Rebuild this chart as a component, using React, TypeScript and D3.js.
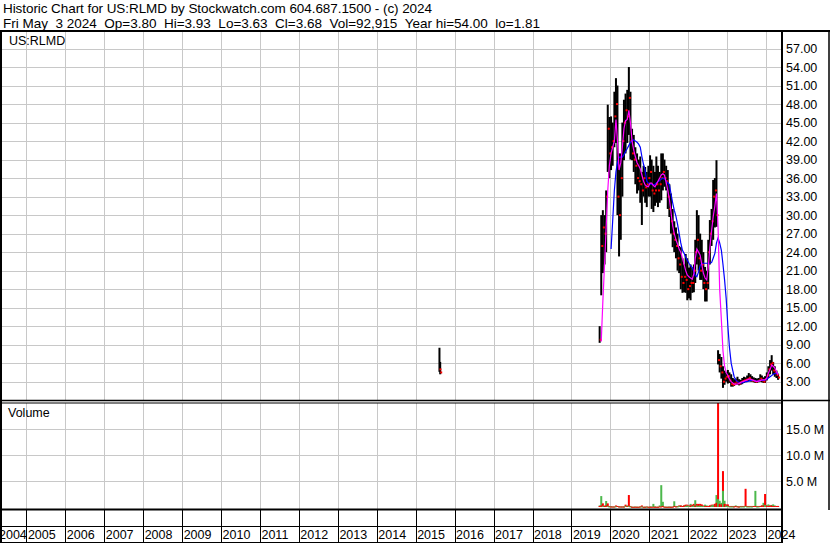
import React from "react";
import * as d3 from "d3";

// ---- data ----
const MONTHS = [
  "2019-09","2019-10","2019-11","2019-12",
  "2020-01","2020-02","2020-03","2020-04","2020-05","2020-06","2020-07","2020-08","2020-09","2020-10","2020-11","2020-12",
  "2021-01","2021-02","2021-03","2021-04","2021-05","2021-06","2021-07","2021-08","2021-09","2021-10","2021-11","2021-12",
  "2022-01","2022-02","2022-03","2022-04","2022-05","2022-06","2022-07","2022-08","2022-09","2022-10","2022-11","2022-12",
  "2023-01","2023-02","2023-03","2023-04","2023-05","2023-06","2023-07","2023-08","2023-09","2023-10","2023-11","2023-12",
  "2024-01","2024-02","2024-03","2024-04",
];

const HIGH = [
  12.0, 30, 30.8, 30, 34, 47.9, 45.9, 46, 45, 50, 52.2, 51, 40, 40, 45, 48.7, 49.7, 50.3, 54, 50,
  44, 43, 41, 40, 39, 39.5, 37, 38, 37.8, 37, 38, 39.7, 39, 38, 37, 39.5, 38, 37, 40, 40,
  39, 38, 37.3, 35, 33.5, 31, 29, 28, 27, 25, 24.8, 23, 22, 23.7, 23, 21.5, 22, 21.5, 22, 26,
  30.8, 30, 27, 26, 24, 21.6, 21, 26, 29.2, 31, 35.7, 36, 38.9, 8.1, 7.5, 7, 5.5, 4.8, 4.5, 4.9,
  4.5, 4.2, 3.6, 3.4, 3.5, 3.8, 3.4, 3.3, 3.6, 3.8, 3.7, 4.0, 4.4, 4.2, 3.9, 3.7, 3.6, 3.5, 3.6, 4.2,
  4.0, 3.7, 3.9, 4.5, 5.5, 6.5, 7.3, 6.2, 5.5, 4.8, 4.3,
];
const LOW = [
  9.3, 17, 20.6, 22, 24, 37, 36, 37.3, 38, 41, 41.7, 30, 23.3, 26, 33, 38.9, 40, 41.7, 43, 39,
  38.9, 37, 35, 33.5, 34, 32, 28.4, 33, 32, 31.3, 33, 33, 31, 30.5, 31.5, 32, 31.3, 32, 32.4, 34,
  34.6, 34, 31, 29.7, 27, 24.8, 24, 23, 21, 20.6, 18, 17.4, 17.5, 17.4, 16.2, 16.5, 16.2, 17.4, 17.5, 19,
  22, 21, 19.5, 19.5, 18, 16, 16, 18, 22, 25, 26, 28, 28.1, 5.8, 4.5, 3.5, 2.0, 2.5, 3, 2.7,
  2.8, 2.2, 2.2, 2.3, 2.5, 2.5, 2.4, 2.5, 2.6, 2.8, 2.9, 3.0, 3.1, 3.0, 3.0, 2.9, 2.8, 2.8, 2.9, 3.0,
  2.9, 2.8, 2.8, 3.2, 3.6, 4.2, 4.8, 4.2, 3.8, 3.6, 3.3,
];
const CLOSE = [
  9.8, 25, 28, 27, 33, 44, 40, 41, 42, 46, 48, 33, 30, 36, 42, 45, 47, 46, 49, 42,
  40, 39, 38, 36, 35.5, 35, 34, 36, 34.5, 35, 36, 37, 34, 33.5, 34, 35, 34, 35, 36, 37,
  36, 35.5, 33, 31, 29, 27, 26, 25, 23, 22, 20, 19, 20, 19.5, 18, 18.5, 19, 19, 21, 24,
  26, 23, 21, 22, 19, 18, 19, 24, 27, 29, 33, 34, 30, 6.5, 5.5, 4.5, 3, 3.5, 3.8, 3.9,
  3.2, 2.6, 2.5, 2.7, 3.0, 2.8, 2.7, 2.9, 3.1, 3.2, 3.3, 3.4, 3.6, 3.3, 3.2, 3.1, 3.0, 3.1, 3.2, 3.5,
  3.2, 3.0, 3.4, 4.0, 5.0, 5.8, 6.0, 4.8, 4.4, 4.1, 3.68,
];
const MA_FAST = [
  null, 9.5, 16, 22, 28, 34, 38, 40, 41, 42, 45.5, 42, 37.3, 38.5, 41, 44, 45.3, 45.5, 47, 45,
  42, 40.5, 39.5, 38.5, 38, 37.5, 36.5, 35.5, 34.9, 34.7, 34.6, 35.2, 35.2, 34.8, 34.6, 35, 35.5, 36, 36.5, 36.7,
  36.5, 35.3, 34, 32.6, 30.5, 28.3, 27, 26, 25.3, 24.5, 24, 23, 22, 21, 20.3, 20, 19.8, 19.6, 20.5, 23,
  24.5, 24, 23.5, 22, 20.6, 19.8, 19.5, 21.5, 24.8, 27.5, 29.7, 31.5, 33.5, 28, 18, 13, 8, 5.5, 4.5, 4.0,
  3.4, 3.0, 2.8, 2.6, 2.6, 2.6, 2.7, 2.9, 3.0, 3.1, 3.2, 3.3, 3.4, 3.4, 3.3, 3.2, 3.1, 3.0, 3.1, 3.2,
  3.3, 3.3, 3.3, 3.6, 4.4, 5.0, 5.7, 5.5, 5.2, 4.6, 4.1,
];
const MA_SLOW = [
  null, null, null, null, null, null, null, 24.5, 29, 34, 37, 38.5, 39.4, 39.4, 39.4, 39.8, 40.3, 40.8, 41.3, 41.8,
  42.1, 42.2, 42.0, 41.8, 41.5, 41.0, 39.5, 38.2, 37.2, 35.5, 35.2, 35.0, 35.0, 34.9, 35.0, 35.2, 35.4, 35.6, 35.8, 36.0,
  35.9, 35.5, 35.2, 35.0, 33.5, 32.0, 30.8, 29.8, 28.5, 27.0, 25.5, 24.3, 23.8, 23.2, 22.7, 22.2, 21.8, 21.5, 20.8, 20.2,
  20.0, 20.8, 21.8, 22.2, 22.2, 22.2, 22.2, 22.2, 22.2, 22.3, 23.0, 23.8, 25.5, 26.3, 25.5, 24.3, 22.0, 19.5, 16.5, 12.0,
  8.5, 6.0, 4.8, 3.8, 3.3, 3.0, 2.9, 2.8, 2.8, 2.9, 3.0, 3.0, 3.1, 3.2, 3.2, 3.2, 3.1, 3.1, 3.1, 3.2,
  3.2, 3.2, 3.3, 3.4, 3.6, 3.8, 4.0, 4.2, 4.3, 4.4, 4.4,
];
// volume in millions, split into up-day (green) and down-day (red) volume
const VOL_GREEN = [
  0.3, 2.1, 0.2, 0.3, 1.15, 0.2, 0.1, 0.15, 0.1, 0.1, 0.15, 0.2, 0.15, 0.1, 0.1, 0.1, 0.2, 0.3, 0.2, 0.1,
  0.05, 0.05, 0.1, 0.05, 0.05, 0.1, 0.1, 0.05, 0.05, 0.05, 0.05, 0.1, 0.1, 0.6, 0.1, 0.05, 0.05, 0.3, 4.2, 1.0,
  0.1, 0.05, 0.05, 0.1, 0.05, 0.1, 1.1, 0.2, 0.1, 0.2, 0.3, 0.2, 0.3, 0.2, 0.3, 0.2, 0.6, 0.2, 0.3, 1.3,
  0.3, 0.2, 0.3, 0.2, 0.2, 0.45, 0.3, 0.2, 0.3, 0.3, 0.4, 0.6, 2.3, 1.5, 1.2, 0.8, 3.1, 1.2, 0.3, 0.2,
  0.1, 0.1, 0.1, 0.2, 0.3, 0.2, 0.1, 0.1, 0.1, 0.1, 0.2, 0.1, 0.1, 0.1, 0.1, 0.2, 3.1, 0.1, 0.1, 0.2,
  0.3, 0.8, 0.4, 0.3, 0.5, 0.3, 0.4, 0.5, 0.3, 0.2, 0.2,
];
const VOL_RED = [
  0.2, 0.3, 0.7, 0.2, 0.3, 0.7, 0.2, 0.1, 0.1, 0.1, 0.3, 0.2, 0.1, 0.1, 0.1, 0.1, 0.45, 0.2, 2.3, 0.2,
  0.05, 0.05, 0.05, 0.05, 0.05, 0.1, 0.3, 0.05, 0.05, 0.1, 0.05, 0.05, 0.05, 0.05, 0.05, 0.05, 0.05, 0.1, 0.1, 0.2,
  0.05, 0.05, 0.05, 0.05, 0.05, 0.05, 0.2, 0.1, 0.2, 0.3, 0.3, 0.2, 0.3, 0.45, 0.45, 0.3, 0.3, 0.45, 0.6, 0.3,
  0.6, 0.6, 0.6, 0.5, 0.3, 0.2, 0.2, 0.2, 0.3, 0.45, 0.45, 0.6, 0.8, 22, 0.6, 0.5, 6.9, 0.6, 0.5, 0.5,
  0.2, 0.2, 0.2, 0.1, 0.2, 0.1, 0.1, 0.2, 0.2, 0.2, 3.5, 0.2, 0.2, 0.2, 0.2, 0.2, 0.2, 0.2, 0.2, 0.2,
  0.3, 0.3, 2.5, 0.3, 0.2, 0.3, 0.3, 0.2, 0.2, 0.2, 0.2,
];
// isolated 2015 trades
const EARLY_DATES = ["2015-08-12", "2015-08-19"];
const EARLY_HIGH = [8.5, 6.2];
const EARLY_LOW = [4.6, 4.2];
const EARLY_CLOSE = [5.0, 4.5];

const PRICE_TICKS = [3, 6, 9, 12, 15, 18, 21, 24, 27, 30, 33, 36, 39, 42, 45, 48, 51, 54, 57];
const VOL_TICKS = [5, 10, 15];
const YEARS = d3.range(2004, 2025);

const HEADER1 = "Historic Chart for US:RLMD by Stockwatch.com 604.687.1500 - (c) 2024";
const HEADER2 = "Fri May  3 2024  Op=3.80  Hi=3.93  Lo=3.63  Cl=3.68  Vol=92,915  Year hi=54.00  lo=1.81";

const FONT = "'Liberation Sans', Arial, sans-serif";
const GRID = "#c8c8c8";

export default function App() {
  const parse = d3.timeParse("%Y-%m-%d");
  const periods = MONTHS.flatMap((m) => [`${m}-08`, `${m}-23`]).slice(1).map((s) => parse(s) as Date);

  const PL = 2, PR = 781;
  const P_TOP = 32, P_BOT = 400;
  const V_TOP = 403, V_BOT = 509;

  const x = d3.scaleTime().domain([new Date(2004, 3, 28), new Date(2024, 4, 11)]).range([0, 780]);
  const y = d3.scaleLinear().domain([0, 59.68]).range([400.2, 32]);
  const yv = d3.scaleLinear().domain([0, 20]).range([507, 403]);

  const maLine = d3.line<number | null>()
    .defined((d) => d != null)
    .x((_, i) => x(periods[i]))
    .y((d) => y(d as number));

  const yearDates = YEARS.map((yr) => new Date(yr, 0, 1));
  const snap = (v: number) => Math.round(v) + 0.5;

  const early = EARLY_DATES.map((s) => parse(s) as Date);

  return (
    <svg width={830} height={543} style={{ position: "absolute", left: 0, top: 0, background: "#fff" }}
      fontFamily={FONT}>
      <defs>
        <clipPath id="pclip"><rect x={PL} y={P_TOP} width={PR - PL} height={P_BOT - P_TOP} /></clipPath>
        <clipPath id="vclip"><rect x={PL} y={V_TOP} width={PR - PL} height={V_BOT - V_TOP} /></clipPath>
      </defs>
      <rect x={0} y={0} width={830} height={543} fill="#fff" />

      {/* header */}
      <text x={3} y={13} fontSize={13.5} fill="#000" textLength={429} lengthAdjust="spacing"
        style={{ whiteSpace: "pre" }}>{HEADER1}</text>
      <text x={3} y={27.5} fontSize={13.5} fill="#000" textLength={537} lengthAdjust="spacing"
        style={{ whiteSpace: "pre" }}>{HEADER2}</text>

      {/* price grid */}
      {PRICE_TICKS.map((t) => (
        <line key={"hg" + t} x1={PL} x2={PR} y1={snap(y(t))} y2={snap(y(t))} stroke={GRID} />
      ))}
      {yearDates.slice(1).map((d, i) => (
        <line key={"vg" + i} x1={snap(x(d))} x2={snap(x(d))} y1={P_TOP} y2={P_BOT} stroke={GRID} />
      ))}
      {/* volume grid */}
      {VOL_TICKS.map((t) => (
        <line key={"vhg" + t} x1={PL} x2={PR} y1={snap(yv(t))} y2={snap(yv(t))} stroke={GRID} />
      ))}
      {yearDates.slice(1).map((d, i) => (
        <line key={"vvg" + i} x1={snap(x(d))} x2={snap(x(d))} y1={V_TOP} y2={V_BOT} stroke={GRID} />
      ))}

      {/* price bars */}
      <g clipPath="url(#pclip)">
        {early.map((d, i) => (
          <rect key={"e" + i} x={x(d) - 1} y={y(EARLY_HIGH[i])} width={2}
            height={Math.max(1, y(EARLY_LOW[i]) - y(EARLY_HIGH[i]))} fill="#000" />
        ))}
        {early.map((d, i) => (
          <rect key={"ec" + i} x={x(d)} y={y(EARLY_CLOSE[i]) - 1} width={2} height={2} fill="#ff0000" />
        ))}
        {periods.map((d, i) => (
          <rect key={"b" + i} x={x(d) - 1} y={y(HIGH[i])} width={2}
            height={Math.max(1, y(LOW[i]) - y(HIGH[i]))} fill="#000" />
        ))}
        {periods.map((d, i) => (
          <rect key={"c" + i} x={x(d)} y={y(CLOSE[i]) - 1} width={2} height={2} fill="#ff0000" />
        ))}
        <path d={maLine(MA_SLOW) || ""} fill="none" stroke="#0000ff" strokeWidth={1.2} />
        <path d={maLine(MA_FAST) || ""} fill="none" stroke="#ff00ff" strokeWidth={1.2} />
      </g>

      {/* volume bars */}
      <g clipPath="url(#vclip)">
        {periods.map((d, i) => {
          const g = VOL_GREEN[i], r = VOL_RED[i];
          const items = g >= r
            ? [{ v: g, c: "#4cb84c" }, { v: r, c: "#ff0000" }]
            : [{ v: r, c: "#ff0000" }, { v: g, c: "#4cb84c" }];
          return items.map((it, k) => (
            <rect key={"v" + i + "-" + k} x={x(d) - 1} y={yv(it.v)} width={2}
              height={Math.max(1, yv(0) - yv(it.v))} fill={it.c} />
          ));
        })}
      </g>

      {/* pane labels */}
      <text x={9} y={45} fontSize={12.5} fill="#000">US:RLMD</text>
      <text x={8} y={417} fontSize={12.5} fill="#000">Volume</text>

      {/* right axis labels */}
      {PRICE_TICKS.map((t) => (
        <text key={"pl" + t} x={786} y={y(t) + 4.5} fontSize={12.5} fill="#000">{t.toFixed(2)}</text>
      ))}
      {VOL_TICKS.map((t) => (
        <text key={"vl" + t} x={786} y={yv(t) + 4.5} fontSize={12.5} fill="#000">{t.toFixed(1) + " M"}</text>
      ))}

      {/* date axis */}
      {yearDates.slice(1).map((d, i) => (
        <line key={"dt" + i} x1={snap(x(d))} x2={snap(x(d))} y1={510} y2={543} stroke="#000" />
      ))}
      {yearDates.map((d, i) => (
        <text key={"yl" + i} x={i === 0 ? -1 : x(d) + 1.5} y={539} fontSize={12.5} fill="#000">
          {YEARS[i]}
        </text>
      ))}

      {/* frame lines */}
      <line x1={0} x2={830} y1={31} y2={31} stroke="#000" strokeWidth={2} />
      <line x1={0} x2={830} y1={400.5} y2={400.5} stroke="#000" strokeWidth={1.5} />
      <line x1={0} x2={PR} y1={403} y2={403} stroke="#000" strokeWidth={1} />
      <line x1={0} x2={PR} y1={509.5} y2={509.5} stroke="#000" strokeWidth={2} />
      <line x1={0} x2={PR} y1={526.5} y2={526.5} stroke="#000" strokeWidth={1} />
      <line x1={0} x2={PR} y1={542.5} y2={542.5} stroke="#000" strokeWidth={1} />
      <line x1={1} x2={1} y1={31} y2={543} stroke="#000" strokeWidth={2} />
      <line x1={782} x2={782} y1={31} y2={543} stroke="#000" strokeWidth={2} />
      <line x1={829} x2={829} y1={31} y2={510} stroke="#000" strokeWidth={1.5} />
    </svg>
  );
}
